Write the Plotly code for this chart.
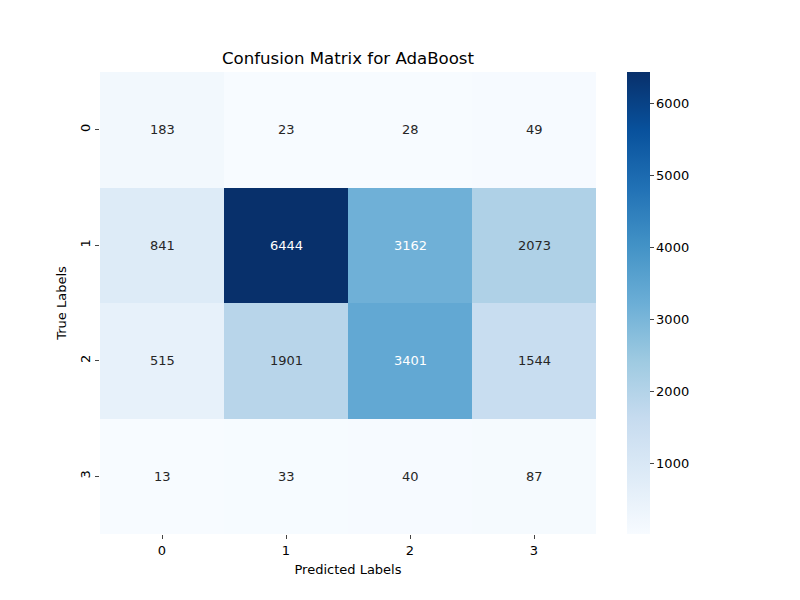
import plotly.graph_objects as go

# confusion matrix values (rows = true labels, cols = predicted labels)
labels = ["0", "1", "2", "3"]
row_0 = [183, 23, 28, 49]
row_1 = [841, 6444, 3162, 2073]
row_2 = [515, 1901, 3401, 1544]
row_3 = [13, 33, 40, 87]
matrix = [row_0, row_1, row_2, row_3]
cbar_ticks = [1000, 2000, 3000, 4000, 5000, 6000]

zmin = min(min(r) for r in matrix)
zmax = max(max(r) for r in matrix)

fig = go.Figure(
    go.Heatmap(
        z=matrix,
        x=labels,
        y=labels,
        colorscale="Blues",
        zmin=zmin,
        zmax=zmax,
        showscale=True,
        hoverinfo="skip",
        colorbar=dict(
            x=1.0625, xanchor="left", y=0, yanchor="bottom", xpad=0, ypad=0,
            len=1, lenmode="fraction", thickness=23, thicknessmode="pixels",
            outlinewidth=0, tickvals=cbar_ticks, ticks="outside", ticklen=4,
            tickfont=dict(size=13, color="black"),
        ),
    )
)

# cell annotations, white text on dark cells like seaborn
for i, row in enumerate(matrix):
    for j, val in enumerate(row):
        frac = (val - zmin) / (zmax - zmin)
        fig.add_annotation(
            x=labels[j], y=labels[i], text=str(val), showarrow=False,
            font=dict(size=13, color="white" if frac > 0.42 else "#262626"),
        )

# page body has an 8px margin, so everything is shifted back by 8px
fig.update_layout(
    width=800,
    height=600,
    margin=dict(l=92, r=212, t=64, b=74),
    paper_bgcolor="white",
    plot_bgcolor="white",
    font=dict(family="DejaVu Sans", size=13, color="black"),
    title=dict(text="Confusion Matrix for AdaBoost", x=340 / 800, xanchor="center",
               y=1 - 50 / 600, yanchor="middle", font=dict(size=16.6)),
)
fig.update_xaxes(
    title=dict(text="Predicted Labels", standoff=8, font=dict(size=13)),
    ticks="outside", ticklen=4, showgrid=False, zeroline=False, showline=False,
)
fig.update_yaxes(
    title=dict(text="True Labels", standoff=8, font=dict(size=13)),
    autorange="reversed", tickangle=-90,
    ticks="outside", ticklen=4, showgrid=False, zeroline=False, showline=False,
)

fig.write_html("out.html")
